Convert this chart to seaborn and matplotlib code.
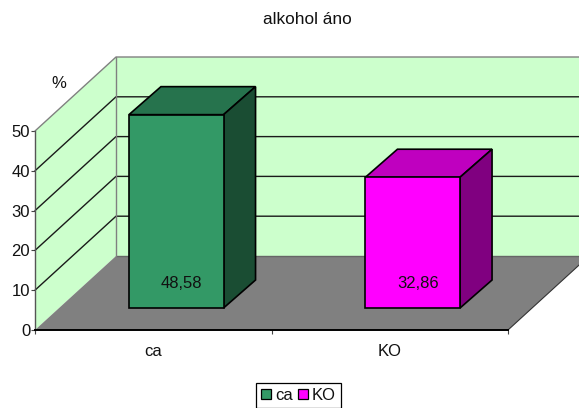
import matplotlib
matplotlib.use("Agg")
import matplotlib.pyplot as plt
import pandas as pd
import seaborn as sns
from matplotlib.patches import Polygon, Patch
from matplotlib.transforms import IdentityTransform, Affine2D

categories = ["ca", "KO"]
values = [48.58, 32.86]
value_labels = ["48,58", "32,86"]
y_ticks = [0, 10, 20, 30, 40, 50]
front_colors = ["#339966", "#FF00FF"]
top_colors = ["#26734D", "#BF00BF"]
side_colors = ["#1A4D33", "#800080"]
title_text = "alkohol áno"
unit_text = "%"

WALL = "#CCFFCC"
FLOOR = "#808080"
# 3D look, in output pixels at 100 dpi
CHART_DEPTH = (81, 74)
BAR_SHIFT = (23, 22)
BAR_DEPTH = (32, 28)
FONT = 12

sns.set_theme(style="white")
plt.rcParams["font.family"] = ["Liberation Sans", "DejaVu Sans"]
plt.rcParams["text.color"] = "#111111"

W, H = 579, 408
fig = plt.figure(figsize=(W / 100, H / 100), dpi=100)
ax = fig.add_axes([35 / W, 78 / H, 473 / W, 199 / H])
ax.patch.set_visible(False)

df = pd.DataFrame({"group": categories, "value": values})
sns.barplot(data=df, x="group", y="value", hue="group", palette=front_colors,
            width=0.40, saturation=1, legend=False, ax=ax,
            edgecolor="black", linewidth=1.2, zorder=5)
ax.set_xlim(-0.5, 1.5)
ax.set_ylim(0, 50)
bars = [p for p in ax.patches if p.get_zorder() == 5]


def px(x, y, depth=(0, 0)):
    """Data position to figure pixels, pushed back by a depth offset."""
    X, Y = ax.transData.transform((x, y))
    return X + depth[0], Y + depth[1]


def poly(points, color, edge=None, lw=1.0, z=1.0):
    face = Polygon(points, closed=True, facecolor=color,
                   edgecolor=edge if edge else "none", linewidth=lw,
                   transform=IdentityTransform(), clip_on=False, zorder=z)
    ax.add_patch(face)


def line(points, color, lw, z):
    xs, ys = zip(*points)
    ax.plot(xs, ys, color=color, lw=lw, transform=IdentityTransform(),
            clip_on=False, zorder=z)


x0, x1 = ax.get_xlim()
top = y_ticks[-1]

# Side wall, back wall and floor
poly([px(x0, 0), px(x0, top), px(x0, top, CHART_DEPTH), px(x0, 0, CHART_DEPTH)],
     WALL, z=0.5)
poly([px(x0, 0, CHART_DEPTH), px(x0, top, CHART_DEPTH),
      px(x1, top, CHART_DEPTH), px(x1, 0, CHART_DEPTH)], WALL, z=0.5)
poly([px(x0, 0), px(x1, 0), px(x1, 0, CHART_DEPTH), px(x0, 0, CHART_DEPTH)],
     FLOOR, z=0.6)

# Gridlines run along the side wall, then across the back wall
for tick in y_ticks:
    if tick == 0:
        line([px(x0, 0, CHART_DEPTH), px(x1, 0, CHART_DEPTH)], "#666666", 1.0, 0.7)
        continue
    color = "#808080" if tick == top else "#1a1a1a"
    line([px(x0, tick), px(x0, tick, CHART_DEPTH), px(x1, tick, CHART_DEPTH)],
         color, 1.0, 0.7)

# Vertical edge where the two walls meet, and the floor's right edge
line([px(x0, 0, CHART_DEPTH), px(x0, top, CHART_DEPTH)], "#808080", 1.0, 0.8)
line([px(x1, 0), px(x1, 0, CHART_DEPTH)], "#333333", 0.8, 0.8)

# Extrude each bar: shift the front face, then add its top and side faces
shift = Affine2D().translate(*BAR_SHIFT)
for i, bar in enumerate(bars):
    left, w, h = bar.get_x(), bar.get_width(), bar.get_height()
    right = left + w
    bar.set_transform(ax.transData + shift)
    bar.set_clip_on(False)
    d1 = BAR_SHIFT
    d2 = (BAR_SHIFT[0] + BAR_DEPTH[0], BAR_SHIFT[1] + BAR_DEPTH[1])
    poly([px(left, h, d1), px(right, h, d1), px(right, h, d2), px(left, h, d2)],
         top_colors[i], "black", 1.2, 4)
    poly([px(right, 0, d1), px(right, h, d1), px(right, h, d2), px(right, 0, d2)],
         side_colors[i], "black", 1.2, 4)
    cx, base = px(left + w / 2, 0, d1)
    ax.text(cx + 5, base + 25, value_labels[i], ha="center", va="center",
            fontsize=FONT, transform=IdentityTransform(), zorder=6)

# Axes furniture
sns.despine(ax=ax, top=True, right=True)
ax.spines["left"].set_color("#555555")
ax.spines["left"].set_linewidth(1.0)
ax.spines["left"].set_zorder(3)
ax.spines["bottom"].set_color("black")
ax.spines["bottom"].set_linewidth(1.4)
ax.spines["bottom"].set_zorder(3)
ax.set_xlabel("")
ax.set_ylabel("")
ax.set_yticks(y_ticks)
ax.tick_params(axis="y", left=True, length=3, width=0.8, color="#444444",
               labelsize=FONT, labelcolor="#111111", pad=0.5)
# Category ticks sit between the groups; the labels stay centred
ax.set_xticks([-0.5, 0.5, 1.5])
ax.set_xticklabels([])
ax.tick_params(axis="x", bottom=True, length=3, width=0.8, color="#444444")
for i, name in enumerate(categories):
    X, Y = px(i, 0)
    ax.text(X, Y - 22, name, ha="center", va="center", fontsize=FONT,
            transform=IdentityTransform())

fig.text(307 / W, 1 - 19 / H, title_text, ha="center", va="center", fontsize=12.4)
fig.text(59 / W, 1 - 83 / H, unit_text, ha="center", va="center", fontsize=FONT)

handles = [Patch(facecolor=c, edgecolor="black", linewidth=0.9, label=n)
           for c, n in zip(front_colors, categories)]
fig.legend(handles=handles, loc="lower left", bbox_to_anchor=(256 / W, 0 / H),
           ncol=2, frameon=True, fancybox=False, edgecolor="black",
           framealpha=1, fontsize=FONT, borderpad=0.3, borderaxespad=0,
           handlelength=0.6, handleheight=0.6, handletextpad=0.25,
           columnspacing=0.3, labelspacing=0).get_frame().set_linewidth(0.9)

fig.savefig("out.png", dpi=100)
